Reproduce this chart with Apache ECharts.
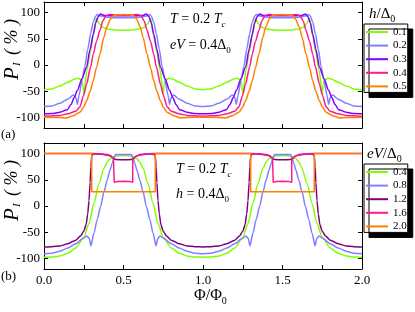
<!DOCTYPE html>
<html><head><meta charset="utf-8">
<script src="https://cdn.jsdelivr.net/npm/echarts@6/dist/echarts.min.js"></script>
<style>html,body{margin:0;padding:0;background:#fff}#c{width:415px;height:312px}</style>
</head><body><div id="c"></div>
<script>
// ---- tick labels ----
const xTicks = [0, 0.5, 1, 1.5, 2];
const xMinorTicks = [0.25, 0.75, 1.25, 1.75];
const yTicks = [-100, -50, 0, 50, 100];

// ---- legend labels ----
const hLabels = ['0.1', '0.2', '0.3', '0.4', '0.5'];
const eVLabels = ['0.4', '0.8', '1.2', '1.6', '2.0'];

// ---- panel (a): P_I (%) vs Phi/Phi0, half period [0, 0.5] (curves are symmetric and periodic) ----
const a_h01 = [[0,-47],[0.05,-45.5],[0.1,-40],[0.15,-33],[0.19,-27],[0.215,-25],[0.235,-29],[0.245,-38],[0.25,-57],[0.27,-10],[0.29,23],[0.31,56],[0.33,88],[0.35,78],[0.37,72],[0.4,68.5],[0.45,66.5],[0.5,66]];
const a_h02 = [[0,-79],[0.05,-78],[0.1,-73],[0.15,-65],[0.185,-57],[0.2,-62],[0.21,-75],[0.22,-58],[0.24,-28],[0.256,-4],[0.275,30],[0.293,59],[0.31,82],[0.325,93],[0.335,96],[0.35,94],[0.4,91],[0.45,90],[0.5,90]];
const a_h03 = [[0,-93],[0.05,-92.5],[0.1,-90],[0.147,-85],[0.17,-75],[0.19,-62],[0.21,-48],[0.24,-25],[0.268,-4],[0.29,30],[0.31,59],[0.325,80],[0.34,92],[0.355,97],[0.38,94.5],[0.42,94],[0.5,94]];
const a_h04 = [[0,-97.5],[0.1,-96],[0.15,-93],[0.2,-88],[0.225,-80],[0.25,-57],[0.268,-36],[0.293,-4],[0.31,21],[0.33,45],[0.352,66],[0.37,84],[0.39,94],[0.41,96],[0.45,95],[0.5,95]];
const a_h05 = [[0,-99.5],[0.1,-100],[0.14,-101],[0.18,-97],[0.226,-90],[0.25,-80],[0.268,-68],[0.29,-50],[0.31,-30],[0.33,-5],[0.352,21],[0.377,53],[0.394,72],[0.419,88],[0.436,94],[0.46,95.5],[0.5,96]];

// ---- panel (b) ----
const b_e04 = [[0,-97.5],[0.05,-97],[0.1,-95],[0.15,-90],[0.2,-80],[0.25,-60],[0.283,-33],[0.314,5],[0.346,43],[0.377,72],[0.4,85],[0.419,91],[0.45,95],[0.5,96]];
const b_e08 = [[0,-91],[0.05,-90],[0.1,-86],[0.15,-80],[0.2,-72],[0.24,-63],[0.27,-57],[0.285,-62],[0.295,-76],[0.314,-52],[0.335,-25],[0.356,-1],[0.377,27],[0.398,50],[0.415,68],[0.43,82],[0.44,92],[0.45,98],[0.5,98]];
const b_e12 = [[0,-78],[0.05,-77.5],[0.1,-76],[0.15,-72],[0.2,-65],[0.23,-57],[0.25,-48],[0.265,-35],[0.275,-15],[0.283,10],[0.29,45],[0.295,75],[0.3,95],[0.31,99.5],[0.35,99],[0.4,97],[0.42,95],[0.435,91],[0.45,88.5],[0.5,88]];
const b_e16 = [[0,100],[0.3,100],[0.35,99.5],[0.4,98],[0.42,96],[0.43,93],[0.437,90],[0.442,87],[0.442,45],[0.46,46.5],[0.5,47]];
const b_e20 = [[0,100],[0.3,100],[0.3,27],[0.5,27]];

const colA = ['#80ff00', '#8080ff', '#8000ff', '#ff1a8c', '#ff8000'];
const colB = ['#80ff00', '#8080ff', '#800080', '#ff1a8c', '#ff8000'];

function periodic(half) {
  const out = [];
  for (let k = 0; k < 2; k++) {
    half.forEach(p => out.push([k + p[0], p[1]]));
    for (let i = half.length - 1; i >= 0; i--) out.push([k + 1 - half[i][0], half[i][1]]);
  }
  return out;
}

const SERIF = 'Liberation Serif';
const allX = xTicks.concat(xMinorTicks).sort((a, b) => a - b);

function xAx(g, pos, lab) {
  return {type: 'value', gridIndex: g, position: pos, min: 0, max: 2, interval: 0.5,
    axisLine: {show: true, onZero: false, lineStyle: {color: '#000', width: 1}},
    axisTick: {show: true, inside: true, length: 4, customValues: allX, lineStyle: {color: '#000'}},
    axisLabel: {show: lab, customValues: xTicks, formatter: v => v.toFixed(1), margin: 5,
      color: '#000', fontFamily: SERIF, fontSize: 13},
    splitLine: {show: false}};
}
function yAx(g, pos, lab) {
  return {type: 'value', gridIndex: g, position: pos, min: -120, max: 120,
    axisLine: {show: true, onZero: false, lineStyle: {color: '#000', width: 1}},
    axisTick: {show: true, inside: true, length: 4, customValues: yTicks, lineStyle: {color: '#000'}},
    axisLabel: {show: lab, customValues: yTicks, margin: 4, color: '#000', fontFamily: SERIF, fontSize: 13},
    splitLine: {show: false}};
}

const series = [];
[a_h01, a_h02, a_h03, a_h04, a_h05].forEach((d, i) => series.push({
  name: 'a' + hLabels[i], type: 'line', xAxisIndex: 0, yAxisIndex: 0, data: periodic(d),
  showSymbol: false, smooth: 0.25, smoothMonotone: 'x', lineStyle: {width: 1.5, color: colA[i]}, itemStyle: {color: colA[i]}}));
[b_e04, b_e08, b_e12, b_e16, b_e20].forEach((d, i) => series.push({
  name: 'b' + eVLabels[i], type: 'line', xAxisIndex: 2, yAxisIndex: 2, data: periodic(d),
  showSymbol: false, smooth: i >= 3 ? false : 0.25, smoothMonotone: 'x', lineStyle: {width: 1.5, color: colB[i]}, itemStyle: {color: colB[i]}}));

function legendCfg(top, names) {
  return {top: top, left: 364, orient: 'vertical', data: names, formatter: n => n.slice(1),
    padding: [2, 1, 0, 2], itemGap: 1.6, itemWidth: 22, itemHeight: 2, icon: 'rect',
    backgroundColor: '#fff', borderColor: '#000', borderWidth: 1,
    shadowColor: '#000', shadowOffsetX: 5, shadowOffsetY: 5, shadowBlur: 0,
    textStyle: {fontFamily: SERIF, fontSize: 11, lineHeight: 12, color: '#000'}, selectedMode: false};
}

// rich text helper: {i|..} italic, {s|..} italic subscript, {u|..} upright subscript
function rtxt(x, y, s, size, extra) {
  return Object.assign({type: 'text', x: x, y: y, style: {
    text: s, fontFamily: SERIF, fontSize: size, fill: '#000', verticalAlign: 'middle', align: 'left', lineHeight: 20,
    rich: {
      i: {fontFamily: SERIF, fontSize: size, fontStyle: 'italic', lineHeight: 20, verticalAlign: 'middle'},
      s: {fontFamily: SERIF, fontSize: Math.round(size * 0.65), fontStyle: 'italic', lineHeight: 10, verticalAlign: 'bottom'},
      u: {fontFamily: SERIF, fontSize: Math.round(size * 0.65), lineHeight: 9, verticalAlign: 'bottom'}
    }}}, extra || {});
}
const F = (sz, it) => (it ? 'italic ' : '') + sz + 'px "' + SERIF + '"';
function txt(x, y, s, font) {
  return {type: 'text', x: x, y: y, style: {text: s, font: font, fill: '#000', verticalAlign: 'middle', align: 'left'}};
}

function yTitle(x, y) {
  return {type: 'group', x: x, y: y, rotation: Math.PI / 2, children: [
    txt(0, 0, 'P', F(21, true)),
    txt(14, 5, 'I', F(11, true)),
    txt(25, 0, '( % )', F(18, true))
  ]};
}

const graphics = [
  rtxt(170, 19, '{i|T} = 0.2 {i|T}{s|c}', 14),
  rtxt(170, 45, '{i|eV} = 0.4Δ{u|0}', 14),
  rtxt(176, 169, '{i|T} = 0.2 {i|T}{s|c}', 14),
  rtxt(176, 194, '{i|h} = 0.4Δ{u|0}', 14),
  rtxt(369, 14, '{i|h}/Δ{u|0}', 15),
  rtxt(367, 154, '{i|eV}/Δ{u|0}', 15),
  txt(1, 135, '(a)', F(13, false)), txt(1, 277, '(b)', F(13, false)),
  rtxt(194, 296, 'Φ/Φ{u|0}', 16),
  yTitle(12, 80), yTitle(12, 221)
];

const chart = echarts.init(document.getElementById('c'), null, {renderer: 'canvas'});
chart.setOption({
  animation: false,
  backgroundColor: '#fff',
  grid: [{left: 44, top: 2, width: 318, height: 126}, {left: 44, top: 143, width: 318, height: 126}],
  xAxis: [xAx(0, 'bottom', false), xAx(0, 'top', false), xAx(1, 'bottom', true), xAx(1, 'top', false)],
  yAxis: [yAx(0, 'left', true), yAx(0, 'right', false), yAx(1, 'left', true), yAx(1, 'right', false)],
  legend: [legendCfg(24, hLabels.map(s => 'a' + s)), legendCfg(164, eVLabels.map(s => 'b' + s))],
  series: series,
  graphic: {elements: graphics}
});
</script></body></html>
